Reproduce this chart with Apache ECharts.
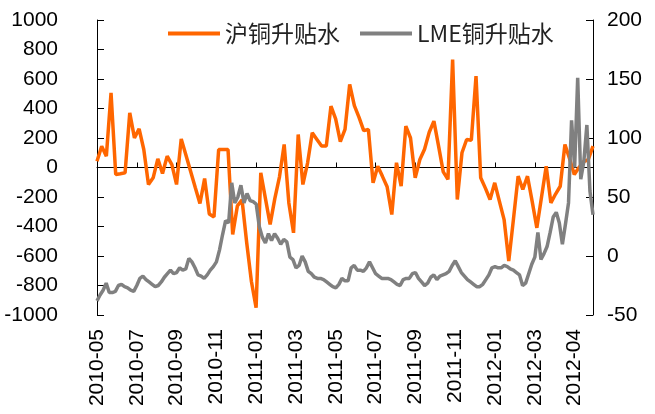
<!DOCTYPE html>
<html>
<head>
<meta charset="utf-8">
<script src="https://cdn.jsdelivr.net/npm/echarts@6/dist/echarts.min.js"></script>
<style>
html,body{margin:0;padding:0;background:#fff;}
#c{width:655px;height:414px;}
</style>
</head>
<body>
<div id="c"></div>
<script>
const tickLabels = ['2010-05','2010-07','2010-09','2010-11','2011-01','2011-03','2011-05','2011-07','2011-09','2011-11','2012-01','2012-03','2012-04'];
const LABEL_STEP = 13;

const lmeValues = [
 -38,-33,-29,-23,-31,-31,-30,-25,-24,-26,
 -27,-29,-30,-25,-19,-17,-20,-22,-24,-26,
 -25,-22,-18,-15,-12,-15,-14,-10,-12,-11,
 -2,-5,-10,-16,-17,-19,-16,-12,-9,-5,
 5,18,30,28,62,45,50,60,45,53,
 47,46,44,25,16,11,19,13,19,15,
 10,14,12,-1,-3,-10,-8,0,-5,-13,
 -15,-18,-19,-19,-20,-22,-24,-26,-27,-24,
 -19,-21,-21,-10,-8,-12,-12,-13,-10,-5,
 -10,-15,-17,-19,-19,-19,-20,-22,-24,-25,
 -20,-19,-19,-15,-14,-19,-22,-25,-23,-18,
 -16,-20,-17,-16,-15,-13,-8,-4,-9,-14,
 -17,-20,-22,-24,-26,-26,-24,-20,-16,-10,
 -9,-10,-10,-8,-9,-11,-12,-14,-16,-25,
 -23,-15,-7,-1,20,-3,2,8,20,33,
 37,28,10,27,45,115,75,151,65,80,
 111,55,35
];

const shValues = [
 43,144,77,506,-47,-42,-36,371,201,262,
 122,-115,-70,59,-41,77,20,-115,194,85,
 -25,-135,-244,-75,-315,-335,122,122,122,-454,
 -260,-220,-512,-773,-950,-36,-211,-386,-211,-63,
 156,-240,-443,224,-115,30,235,190,145,145,
 416,330,175,258,563,420,340,250,258,-104,
 9,-60,-130,-319,32,-127,280,200,-70,54,
 124,239,314,145,-30,-81,732,-217,100,190,
 185,619,-70,-140,-217,-104,-230,-353,-635,-350,
 -59,-149,-59,-230,-409,-200,9,-240,-180,-127,
 156,60,-47,0,40,54,145
];

const lmeCategories = lmeValues.map((_, i) => 'd' + i);
const shCategories = shValues.map((_, i) => 'w' + i);

const FONT = '"Liberation Sans", Arial, sans-serif';
const chart = echarts.init(document.getElementById('c'), null, {renderer: 'canvas'});

chart.setOption({
  animation: false,
  backgroundColor: '#fff',
  legend: {
    left: 163, top: 17,
    itemWidth: 52, itemHeight: 4, itemGap: 20,
    icon: 'rect',
    textStyle: {fontSize: 23, color: '#222', fontFamily: '"Noto Sans CJK SC", "Liberation Sans", sans-serif'},
    data: ['沪铜升贴水', 'LME铜升贴水']
  },
  grid: {left: 97, right: 62, top: 20, bottom: 99, containLabel: false},
  xAxis: [
    {
      type: 'category', data: lmeCategories, boundaryGap: false, position: 'bottom',
      axisLine: {show: false, onZero: false}, axisTick: {show: false},
      axisLabel: {
        interval: LABEL_STEP - 1, rotate: 90, margin: 14, fontSize: 21, color: '#000', fontFamily: FONT,
        formatter: (v, idx) => (idx % LABEL_STEP === 0 ? (tickLabels[idx / LABEL_STEP] || '') : '')
      },
      splitLine: {show: false}
    },
    {
      type: 'category', data: shCategories, boundaryGap: false, position: 'top', show: false
    },
    {
      type: 'category', data: lmeCategories, boundaryGap: false, position: 'bottom',
      axisLine: {show: true, onZero: true, onZeroAxisIndex: 0, lineStyle: {color: '#000', width: 1}},
      axisTick: {show: true, inside: true, length: 5, interval: LABEL_STEP - 1, lineStyle: {color: '#000'}},
      axisLabel: {show: false}, splitLine: {show: false}
    }
  ],
  yAxis: [
    {
      type: 'value', min: -1000, max: 1000, interval: 200, position: 'left',
      axisLine: {show: true, lineStyle: {color: '#000', width: 1}},
      axisTick: {show: true, inside: true, length: 7, lineStyle: {color: '#000'}},
      axisLabel: {fontSize: 21, color: '#000', fontFamily: FONT, margin: 39, formatter: v => String(v)},
      splitLine: {show: false}
    },
    {
      type: 'value', min: -50, max: 200, interval: 50, position: 'right',
      axisLine: {show: true, lineStyle: {color: '#000', width: 1}},
      axisTick: {show: true, inside: true, length: 7, lineStyle: {color: '#000'}},
      axisLabel: {fontSize: 21, color: '#000', fontFamily: FONT, margin: 14, formatter: v => String(v)},
      splitLine: {show: false}
    }
  ],
  series: [
    {
      name: '沪铜升贴水', type: 'line', xAxisIndex: 1, yAxisIndex: 0,
      data: shValues, showSymbol: false, symbol: 'none',
      lineStyle: {color: '#FF6600', width: 3.5}, itemStyle: {color: '#FF6600'}
    },
    {
      name: 'LME铜升贴水', type: 'line', xAxisIndex: 0, yAxisIndex: 1,
      data: lmeValues, showSymbol: false, symbol: 'none',
      lineStyle: {color: '#808080', width: 3.5}, itemStyle: {color: '#808080'}
    }
  ]
});
</script>
</body>
</html>
